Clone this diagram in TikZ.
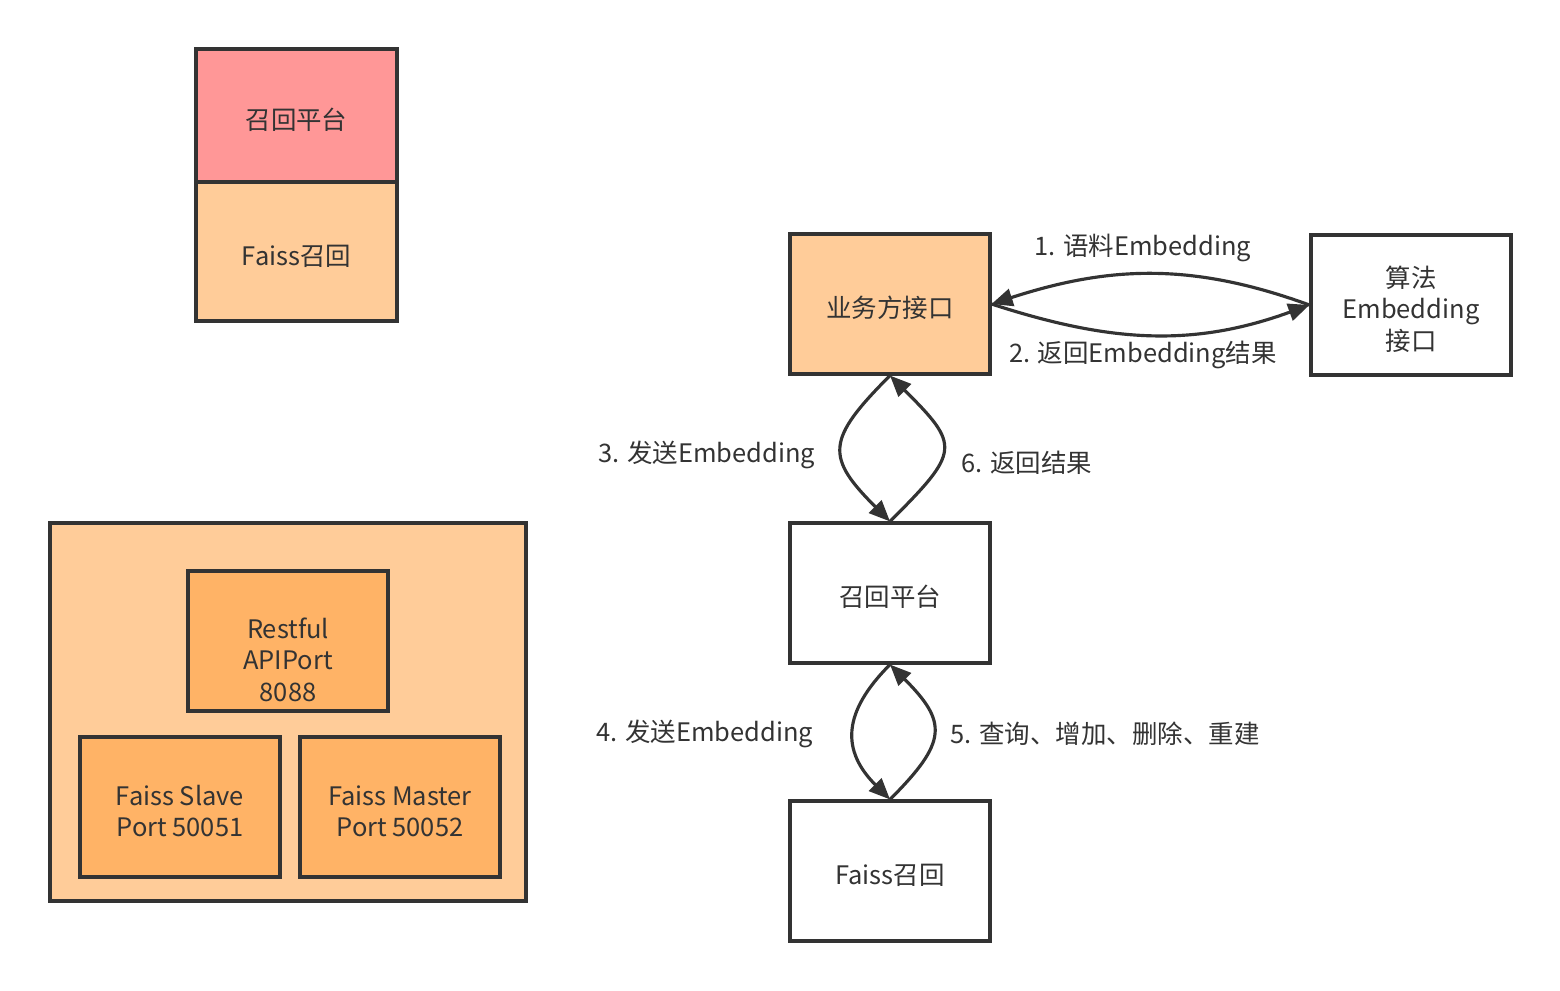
\documentclass[tikz,border=0pt]{standalone}
\usepackage{fontspec}
\setmainfont{Noto Sans CJK SC}
\usetikzlibrary{arrows.meta,calc}
\definecolor{ink}{HTML}{333333}
\definecolor{peach}{HTML}{FFCC99}
\definecolor{rose}{HTML}{FF9797}
\definecolor{amber}{HTML}{FFB366}
\tikzset{box/.style={draw=ink,line width=1.8pt,text=ink,minimum width=4cm,minimum height=2.8cm,align=center,inner sep=0pt,execute at begin node={\rule{0pt}{#1}}},box/.default=17pt,
lbl/.style={text=ink,inner sep=0pt},
flow/.style={draw=ink,line width=1.8pt,-{Triangle[length=12pt,width=10pt]}}}
\begin{document}
\begin{tikzpicture}[x=0.02cm,y=0.02cm,font=\fontsize{14.5}{18}\selectfont]
\useasboundingbox(0,0)rectangle(1560,-991);
% legend
\node[box,fill=rose,minimum width=4.02cm,minimum height=2.66cm](leg1)at(296.5,-115.5){召回平台};
\node[box,fill=peach,minimum width=4.02cm,minimum height=2.78cm](leg2)at(296.5,-251.5){Faiss召回};
% deployment
\node[box,fill=peach,minimum width=9.52cm,minimum height=7.56cm](dep)at(288,-712){};
\node[box=69pt,fill=amber](rest)at(288,-641){Restful\\APIPort\\8088};
\node[box=34pt,fill=amber](slave)at(180,-807){Faiss Slave\\Port 50051};
\node[box=34pt,fill=amber](master)at(400,-807){Faiss Master\\Port 50052};
% flow
\node[box,fill=peach](biz)at(890,-304){业务方接口};
\node[box=53pt,fill=white](algo)at(1411,-305){算法\\Embedding\\接口};
\node[box,fill=white](recall)at(890,-593){召回平台};
\node[box,fill=white](faiss)at(890,-871){Faiss召回};
\draw[flow](algo.west)to[out=160,in=18](biz.east);\draw[flow](biz.east)to[out=-18,in=-160](algo.west);
\draw[flow](biz.south)to[out=-135,in=135,looseness=1.6](recall.north);\draw[flow](recall.north)to[out=45,in=-45,looseness=1.75](biz.south);
\draw[flow](recall.south)to[out=-135,in=135,looseness=1.3](faiss.north);\draw[flow](faiss.north)to[out=45,in=-45,looseness=1.55](recall.south);
\node[lbl](l1)at(1143,-248){1. 语料Embedding};\node[lbl](l2)at(1143,-355){2. 返回Embedding结果};
\node[lbl](l3)at(707,-455){3. 发送Embedding};\node[lbl](l6)at(1027,-463){6. 返回结果};
\node[lbl](l4)at(705,-734){4. 发送Embedding};\node[lbl](l5)at(1105,-734){5. 查询、增加、删除、重建};
\end{tikzpicture}
\end{document}
